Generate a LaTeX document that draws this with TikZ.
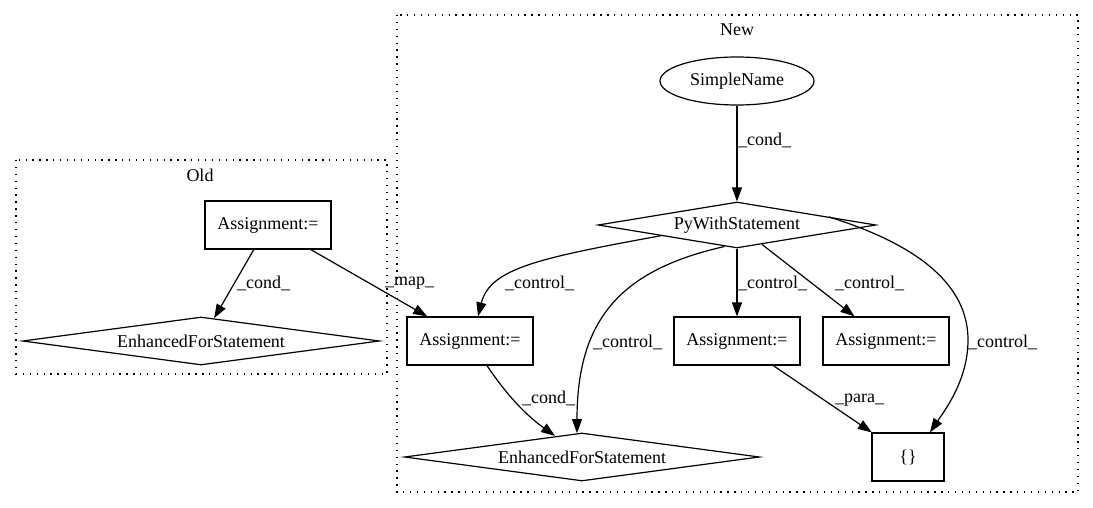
\documentclass[tikz,border=0pt]{standalone}
\usepackage{fontspec}
\setmainfont{Liberation Serif}
\usetikzlibrary{shapes.geometric,arrows.meta}
\begin{document}
\begin{tikzpicture}[x=1pt,y=-1pt,
  every node/.style={font=\fontsize{18}{20}\selectfont, inner sep=0pt},
  box/.style={draw, rectangle, line width=1.2pt, minimum width=126pt, minimum height=48pt},
  dia/.style={draw, diamond, line width=1.2pt, shape aspect=6.5},
  ell/.style={draw, ellipse, line width=1.2pt, minimum width=154pt, minimum height=48pt},
  cluster/.style={line width=1.3pt, dash pattern=on 1.3pt off 5.6pt},
  edge/.style={line width=1.2pt, -{Triangle[length=14pt,width=10pt]}},
  lab/.style={anchor=west}
]
\useasboundingbox (0,0) rectangle (1093,508);
% clusters
\draw[cluster] (16,160) rectangle (387,374);
\node (oldlab) at (200,175) {Old};
\draw[cluster] (397,15) rectangle (1078,492);
\node (newlab) at (737,30) {New};
% nodes
\node[box] (oasg) at (268,225) {Assignment:=};
\node[dia, minimum width=357pt, minimum height=48pt] (oefs) at (201,341) {EnhancedForStatement};
\node[ell] (sn) at (737,81) {SimpleName};
\node[dia, minimum width=278pt, minimum height=46pt] (py) at (737,225) {PyWithStatement};
\node[box] (a1) at (470,341) {Assignment:=};
\node[box] (a2) at (737,341) {Assignment:=};
\node[box] (a3) at (886,341) {Assignment:=};
\node[dia, minimum width=355pt, minimum height=48pt] (efs) at (582,457) {EnhancedForStatement};
\node[box, minimum width=72pt] (br) at (908,457) {\{\}};
% edges
\draw[edge] (oasg) -- (oefs);
\draw[edge] (oasg) -- (a1);
\draw[edge] (sn) -- (py);
\draw[edge] (py) -- (a2);
\draw[edge] (py) -- (a3);
\draw[edge] (a2) -- (br);
\draw[edge] ([xshift=17pt]a1.south) .. controls (510,400) and (530,418) .. ([xshift=-27pt,yshift=-3.5pt]efs.north);
\draw[edge] (py.188) .. controls (540,258) and (490,268) .. ([xshift=8pt]a1.north);
\draw[edge] (py.240) .. controls (620,270) and (577,320) .. ([xshift=-5pt,yshift=-0.7pt]efs.north);
\draw[edge] (py.5) .. controls (935,250) and (968,295) .. (968,340) .. controls (968,380) and (945,410) .. ([xshift=22pt]br.north);
% labels
\node[lab] (l1) at (738,140) {\_cond\_};
\node[lab] (l2) at (237,283) {\_cond\_};
\node[lab] (l3) at (385,283) {\_map\_};
\node[lab] (l4) at (505,283) {\_control\_};
\node[lab] (l5) at (593,342) {\_control\_};
\node[lab] (l6) at (738,283) {\_control\_};
\node[lab] (l7) at (835,283) {\_control\_};
\node[lab] (l8) at (968,342) {\_control\_};
\node[lab] (l9) at (522,398) {\_cond\_};
\node[lab] (l10) at (835,400) {\_para\_};
\end{tikzpicture}
\end{document}
